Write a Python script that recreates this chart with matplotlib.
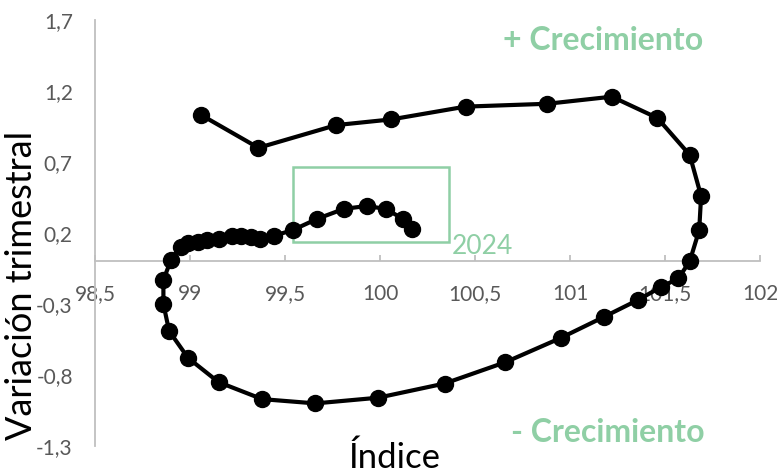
import matplotlib.pyplot as plt
from matplotlib.patches import Rectangle

plt.rcParams["font.family"] = ["Lato", "DejaVu Sans"]

# datos (índice, variación trimestral)
indice = [
    99.06, 99.36, 99.77, 100.06, 100.45, 100.88, 101.22, 101.46, 101.63,
    101.69, 101.68, 101.63, 101.57, 101.48, 101.36, 101.18, 100.95, 100.66,
    100.34, 99.99, 99.66, 99.38, 99.15, 98.99, 98.89, 98.86, 98.86, 98.90,
    98.95, 98.99, 99.04, 99.09, 99.15, 99.22, 99.27, 99.32, 99.37, 99.44,
    99.54, 99.67, 99.81, 99.93, 100.03, 100.12, 100.17,
]
variacion = [
    1.03, 0.80, 0.96, 1.00, 1.09, 1.11, 1.16, 1.01, 0.75,
    0.46, 0.22, 0.00, -0.12, -0.18, -0.27, -0.39, -0.54, -0.71,
    -0.86, -0.96, -1.00, -0.97, -0.85, -0.68, -0.49, -0.30, -0.13, 0.01,
    0.10, 0.13, 0.14, 0.15, 0.16, 0.18, 0.18, 0.17, 0.16, 0.18,
    0.22, 0.30, 0.37, 0.39, 0.37, 0.30, 0.23,
]

x_ticks = [98.5, 99, 99.5, 100, 100.5, 101, 101.5, 102]
y_ticks = [-1.3, -0.8, -0.3, 0.2, 0.7, 1.2, 1.7]

verde = "#8FCFA5"
gris = "#595959"

fig = plt.figure(figsize=(7.77, 4.75), dpi=100)
ax = fig.add_axes([95 / 777, 29 / 475, 665 / 777, 426 / 475])

ax.plot(indice, variacion, color="black", linewidth=3, marker="o",
        markersize=11.5, zorder=3)

ax.set_xlim(98.5, 102)
ax.set_ylim(-1.3, 1.7)

ax.set_xticks(x_ticks)
ax.set_xticklabels([("%g" % v).replace(".", ",") for v in x_ticks])
ax.set_yticks(y_ticks)
ax.set_yticklabels([("%g" % v).replace(".", ",") for v in y_ticks])

for s in ["top", "right"]:
    ax.spines[s].set_visible(False)
ax.spines["bottom"].set_position(("data", 0))
ax.spines["bottom"].set_color("#BFBFBF")
ax.spines["left"].set_color("#BFBFBF")
ax.spines["bottom"].set_linewidth(1.3)
ax.spines["left"].set_linewidth(1.3)

ax.tick_params(axis="x", direction="in", length=4, width=1.3, color="#BFBFBF",
               labelsize=15, labelcolor=gris, pad=16)
ax.tick_params(axis="y", length=0, labelsize=15, labelcolor=gris, pad=16)

# recuadro 2024
ax.add_patch(Rectangle((99.542, 0.134), 100.363 - 99.542, 0.662 - 0.134,
                       fill=False, edgecolor=verde, linewidth=1.8, zorder=2))
ax.text(100.38, 0.05, "2024", color=verde, fontsize=19, ha="left", va="baseline")

fig.text(703 / 777, 1 - 50 / 475, "+ Crecimiento", color=verde, fontsize=23,
         fontweight="bold", ha="right", va="baseline")
fig.text(705 / 777, 1 - 442 / 475, "- Crecimiento", color=verde, fontsize=23,
         fontweight="bold", ha="right", va="baseline")

fig.text(395 / 777, 1 - 468 / 475, "Índice", fontsize=25, ha="center",
         va="baseline")
fig.text(38 / 777, 1 - 285 / 475, "Variación trimestral", fontsize=26,
         rotation=90, ha="right", va="center")

fig.savefig("out.png", dpi=100)
